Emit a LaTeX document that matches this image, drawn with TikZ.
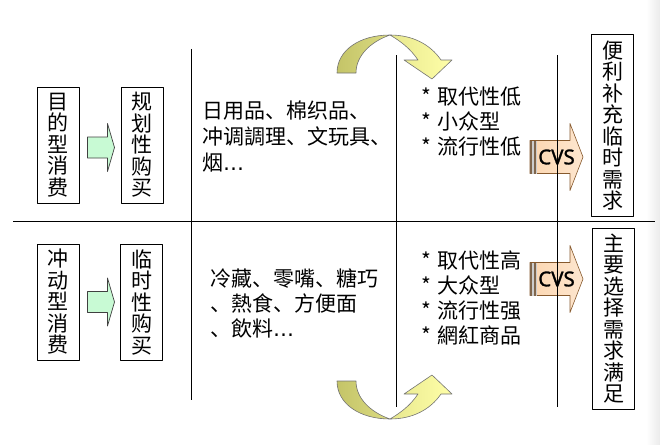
\documentclass[tikz,border=0pt]{standalone}
\usepackage{fontspec}
\newfontfamily\cjk{Noto Sans CJK SC}
\newfontfamily\latin{DejaVu Sans}
\newfontfamily\cvsfont[FakeBold=1.2]{Noto Sans}
\usetikzlibrary{calc}

\definecolor{mint}{RGB}{200,250,212}
\definecolor{peach}{RGB}{252,214,176}
\definecolor{olive}{RGB}{196,196,104}
\definecolor{lemon}{RGB}{255,255,168}

\tikzset{
	vbox/.style={draw, line width=1pt, inner sep=0pt, minimum width=42, minimum height=116,
		align=center, font=\cjk\fontsize{21}{21.5}\selectfont},
	txt/.style={inner sep=0pt, anchor=west, align=left},
	garrow/.style={fill=mint, draw=black!75, line width=.7pt},
	cvsarrow/.style={left color=peach, right color=peach!60!white, draw=brown!70!black, line width=.6pt},
	backband/.style={left color=olive, right color=olive!60!lemon, draw=black!55, line width=.6pt},
	frontband/.style={left color=olive!40!lemon, right color=lemon, draw=black!55, line width=.6pt},
	rule/.style={line width=.8pt}
}

% one bent arrow, the lower one is the same mirrored
\newcommand{\bendarrow}{%
	\path[backband] (337,73) .. controls (337,50) and (360,35) .. (390,35)
		.. controls (370,42) and (356,56) .. (356,73) -- cycle;
	\path[frontband] (390,35) .. controls (412,35) and (430,44) .. (441,60) -- (452,60) -- (432,79)
		-- (404,60) -- (418,60) .. controls (410,48) and (400,41) .. (390,35) -- cycle;
}

\begin{document}
\begin{tikzpicture}[x=1pt, y=-1pt, line join=round]
	\useasboundingbox (0,0) rectangle (660,444);
	\shade[left color=white, right color=black!8] (646,0) rectangle (660,444);
	
	% boxes
	\node[vbox] (mdxf) at (58,145) {目\\的\\型\\消\\费};
	\node[vbox] (ghgm) at (142,145) {规\\划\\性\\购\\买};
	\node[vbox] (cdxf) at (58,302) {冲\\动\\型\\消\\费};
	\node[vbox] (lsgm) at (141.5,302) {临\\时\\性\\购\\买};
	\node[vbox, minimum height=181] (blbc) at (612.5,125.5) {便\\利\\补\\充\\临\\时\\需\\求};
	\node[vbox, minimum height=181] (zyxz) at (613.5,318.5) {主\\要\\选\\择\\需\\求\\满\\足};
	
	\foreach \a/\d in {mdxf/-8, cdxf/-10.5}
		\draw[garrow] ($(\a.east)+(8,\d)$) -- ++(20,0) -- ++(0,-13.5) -- ++(7,24) -- ++(-7,24)
			-- ++(0,-13.5) -- ++(-20,0) -- cycle;
	
	% goods
	\node[txt, font=\cjk\fontsize{21}{26}\selectfont] (rypin) at (202,137)
		{日用品、棉织品、\\冲调調理、文玩具、\\烟{\latin …}};
	\node[txt, font=\cjk\fontsize{21}{25}\selectfont] (lczui) at (210,303)
		{冷藏、零嘴、糖巧\\、熱食、方便面\\、飲料{\latin …}};
	\node[txt, font=\cjk\fontsize{21}{25}\selectfont] (qddi) at (421,122)
		{*\hspace{6pt}取代性低\\{}*\hspace{6pt}小众型\\{}*\hspace{6pt}流行性低};
	\node[txt, font=\cjk\fontsize{21}{25}\selectfont] (qdgao) at (421,297.5)
		{*\hspace{6pt}取代性高\\{}*\hspace{6pt}大众型\\{}*\hspace{6pt}流行性强\\{}*\hspace{6pt}網紅商品};
	
	% bent arrows
	\bendarrow
	\begin{scope}[shift={(0,454)}, yscale=-1]
		\bendarrow
	\end{scope}
	
	% cvs arrows
	\foreach \c/\n in {157/cvsa, 279/cvsb} {
		\path[cvsarrow] (530,\c-16.5) -- (570,\c-16.5) -- (570,\c-33.5) -- (583,\c)
			-- (570,\c+33.5) -- (570,\c+16.5) -- (530,\c+16.5) -- cycle;
		\fill[black!20] (530,\c-16.5) rectangle (537,\c+16.5);
		\fill[brown!50!black!80] (530,\c-16.5) rectangle (532,\c+16.5);
		\fill[brown!50!black!80] (533.5,\c-16.5) rectangle (535.5,\c+16.5);
		\node[inner sep=0pt, font=\cvsfont\fontsize{20.5}{20.5}\selectfont] (\n) at (556.5,\c) {CVS};
	}
	
	% dividers
	\path (13,221) coordinate (L) (655,221) coordinate (R);
	\draw[rule] (L) -- (R);
	\foreach \x/\a/\b in {191/49/400, 396/55/407, 557/55/407}
		\draw[rule] (\x,\a) -- (\x,\b);
\end{tikzpicture}
\end{document}
